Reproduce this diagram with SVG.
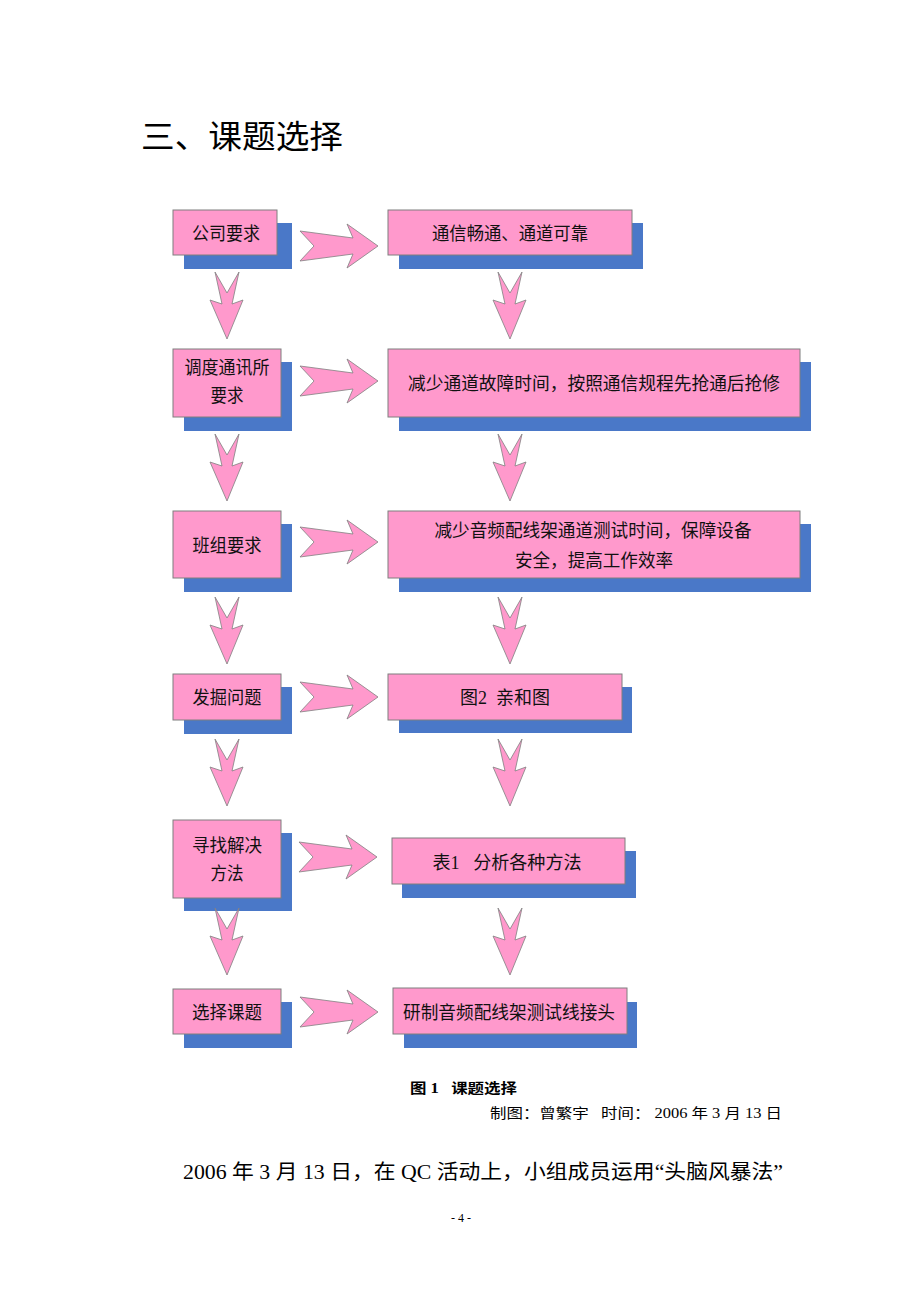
<svg xmlns="http://www.w3.org/2000/svg" width="920" height="1302" viewBox="0 0 920 1302">
<defs>
<style>
text{white-space:pre;}
.sh{fill:#4a78c8;}
.bx{fill:#ff99cc;stroke:#7f7f7f;stroke-width:1;}
.ar{fill:#ff99cc;stroke:#808080;stroke-width:0.8;stroke-linejoin:miter;}
.t{font-family:"Liberation Serif","Noto Sans CJK SC",serif;font-size:18px;fill:#111;text-anchor:middle;}
.cap{font-family:"Liberation Serif","Noto Sans CJK SC",serif;font-size:14px;fill:#000;}
</style>
<polygon id="ha" points="-78,-15 -25,-8 -31,-22 0,0 -31,22 -25,8 -78,15 -64,0"/>
<polygon id="va" points="-12,-67 0,-46 12,-67 5,-35 16,-39 0,0 -17,-39 -5,-35"/>
</defs>
<rect width="920" height="1302" fill="#fff"/>
<text x="141" y="148" font-family="'Noto Sans CJK SC',sans-serif" font-size="32" textLength="202" lengthAdjust="spacingAndGlyphs" fill="#000">三、课题选择</text>

<g id="n1"><rect class="sh" x="184" y="223" width="108" height="46"/><rect class="bx" x="173" y="210" width="104" height="45"/><text class="t" x="226" y="240" textLength="68" lengthAdjust="spacingAndGlyphs">公司要求</text></g>
<g id="n2"><rect class="sh" x="399" y="223" width="244" height="46"/><rect class="bx" x="388" y="210" width="244" height="45"/><text class="t" x="510" y="240" textLength="156" lengthAdjust="spacingAndGlyphs">通信畅通、通道可靠</text></g>

<g id="n3"><rect class="sh" x="184" y="362" width="108" height="69"/><rect class="bx" x="173" y="349" width="108" height="68"/><text class="t" x="227" y="374" textLength="85" lengthAdjust="spacingAndGlyphs">调度通讯所</text><text class="t" x="227" y="402" textLength="33" lengthAdjust="spacingAndGlyphs">要求</text></g>
<g id="n4"><rect class="sh" x="399" y="362" width="412" height="69"/><rect class="bx" x="388" y="349" width="412" height="68"/><text class="t" x="594" y="390" textLength="372" lengthAdjust="spacingAndGlyphs">减少通道故障时间，按照通信规程先抢通后抢修</text></g>

<g id="n5"><rect class="sh" x="184" y="524" width="108" height="68"/><rect class="bx" x="173" y="511" width="108" height="67"/><text class="t" x="227" y="552" textLength="69" lengthAdjust="spacingAndGlyphs">班组要求</text></g>
<g id="n6"><rect class="sh" x="399" y="524" width="412" height="68"/><rect class="bx" x="388" y="511" width="412" height="67"/><text class="t" x="593" y="537" textLength="317" lengthAdjust="spacingAndGlyphs">减少音频配线架通道测试时间，保障设备</text><text class="t" x="594" y="567" textLength="158" lengthAdjust="spacingAndGlyphs">安全，提高工作效率</text></g>

<g id="n7"><rect class="sh" x="184" y="687" width="108" height="47"/><rect class="bx" x="173" y="674" width="108" height="46"/><text class="t" x="227" y="704" textLength="69" lengthAdjust="spacingAndGlyphs">发掘问题</text></g>
<g id="n8"><rect class="sh" x="399" y="687" width="233" height="46"/><rect class="bx" x="388" y="674" width="234" height="46"/><text class="t" x="505" y="704" textLength="90" lengthAdjust="spacingAndGlyphs">图2  亲和图</text></g>

<g id="n9"><rect class="sh" x="184" y="833" width="108" height="78"/><rect class="bx" x="173" y="820" width="108" height="78"/><text class="t" x="227" y="852" textLength="70" lengthAdjust="spacingAndGlyphs">寻找解决</text><text class="t" x="227" y="880" textLength="33" lengthAdjust="spacingAndGlyphs">方法</text></g>
<g id="n10"><rect class="sh" x="402" y="851" width="234" height="47"/><rect class="bx" x="392" y="838" width="233" height="46"/><text class="t" x="507" y="869" textLength="149" lengthAdjust="spacingAndGlyphs">表1   分析各种方法</text></g>

<g id="n11"><rect class="sh" x="184" y="1002" width="108" height="46"/><rect class="bx" x="173" y="989" width="108" height="45"/><text class="t" x="227" y="1019" textLength="70" lengthAdjust="spacingAndGlyphs">选择课题</text></g>
<g id="n12"><rect class="sh" x="404" y="1002" width="233" height="46"/><rect class="bx" x="393" y="988" width="234" height="46"/><text class="t" x="509" y="1019" textLength="212" lengthAdjust="spacingAndGlyphs">研制音频配线架测试线接头</text></g>

<g id="connectors">
<use href="#ha" class="ar" x="378" y="246"/>
<use href="#ha" class="ar" x="378" y="381"/>
<use href="#ha" class="ar" x="378" y="542"/>
<use href="#ha" class="ar" x="378" y="697"/>
<use href="#ha" class="ar" x="377" y="857"/>
<use href="#ha" class="ar" x="378" y="1012"/>
<use href="#va" class="ar" x="227" y="339"/>
<use href="#va" class="ar" x="227" y="501"/>
<use href="#va" class="ar" x="227" y="664"/>
<use href="#va" class="ar" x="227" y="806"/>
<use href="#va" class="ar" x="227" y="975"/>
<use href="#va" class="ar" x="510" y="339"/>
<use href="#va" class="ar" x="510" y="501"/>
<use href="#va" class="ar" x="510" y="664"/>
<use href="#va" class="ar" x="510" y="806"/>
<use href="#va" class="ar" x="510" y="975"/>
</g>

<text class="cap" x="410" y="1093" font-weight="bold" textLength="107" lengthAdjust="spacingAndGlyphs">图 1   课题选择</text>
<text class="cap" x="490" y="1118" textLength="292" lengthAdjust="spacingAndGlyphs">制图：曾繁宇   时间： 2006 年 3 月 13 日</text>
<text x="183" y="1179" font-family="'Liberation Serif','Noto Sans CJK SC',serif" font-size="20" fill="#000" textLength="600" lengthAdjust="spacingAndGlyphs">2006 年 3 月 13 日，在 QC 活动上，小组成员运用“头脑风暴法”</text>
<text x="461" y="1222" font-family="'Liberation Serif',serif" font-size="12" fill="#000" text-anchor="middle">- 4 -</text>
</svg>
